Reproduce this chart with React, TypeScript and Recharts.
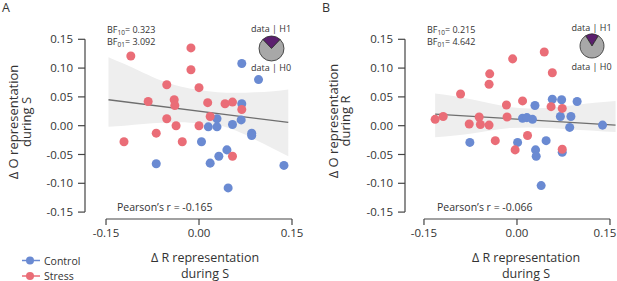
import React from 'react';
import {
  ComposedChart, Scatter, Line, Area, XAxis, YAxis, ReferenceLine,
  PieChart, Pie, Cell,
} from 'recharts';

// values, [x, y]
const controlA: [number, number][] = [
  [0.069, 0.108], [0.096, 0.080], [0.069, 0.038], [0.029, 0.012], [0.068, 0.010],
  [0.015, -0.002], [0.029, -0.002], [0.054, 0.002], [0.085, -0.013], [0.085, -0.017],
  [0.004, -0.028], [-0.069, -0.066], [0.018, -0.065], [0.032, -0.053], [0.045, -0.042],
  [0.137, -0.069], [0.047, -0.108],
];
const stressA: [number, number][] = [
  [-0.110, 0.121], [-0.013, 0.135], [-0.013, 0.097], [-0.052, 0.071], [0.000, 0.066],
  [-0.082, 0.042], [-0.040, 0.045], [-0.039, 0.035], [0.014, 0.040], [0.042, 0.038],
  [0.054, 0.041], [0.069, 0.028], [-0.052, 0.012], [0.018, 0.016], [-0.037, 0.000],
  [0.000, 0.000], [-0.069, -0.013], [-0.121, -0.028], [-0.027, -0.028], [0.054, -0.053],
];
const controlB: [number, number][] = [
  [0.057, 0.046], [0.072, 0.045], [0.097, 0.042], [0.029, 0.035], [0.009, 0.013],
  [0.016, 0.014], [0.025, 0.011], [0.070, 0.016], [0.087, 0.016], [0.085, -0.003],
  [0.138, 0.001], [-0.076, -0.029], [0.001, -0.029], [0.047, -0.026], [0.030, -0.042],
  [0.031, -0.053], [0.073, -0.046], [0.039, -0.104],
];
const stressB: [number, number][] = [
  [0.044, 0.128], [-0.007, 0.116], [-0.044, 0.090], [0.057, 0.092], [-0.045, 0.072],
  [-0.091, 0.055], [0.009, 0.043], [-0.017, 0.036], [0.055, 0.033], [0.073, 0.030],
  [-0.132, 0.011], [-0.119, 0.016], [-0.061, 0.015], [-0.016, 0.015], [-0.077, 0.003],
  [-0.059, 0.002], [-0.045, 0.001], [0.017, -0.017], [-0.035, -0.026], [-0.003, -0.042],
  [0.073, -0.041],
];

// regression line end points and credible band
const fitA: [number, number][] = [[-0.146, 0.045], [0.144, 0.0057]];
const fitB: [number, number][] = [[-0.132, 0.020], [0.159, 0.001]];

const bandAX = [-0.146, -0.12, -0.09, -0.06, -0.03, 0.0, 0.03, 0.06, 0.09, 0.12, 0.144];
const bandAHi = [0.119, 0.107, 0.092, 0.078, 0.068, 0.062, 0.058, 0.057, 0.058, 0.060, 0.063];
const bandALo = [-0.002, 0.000, 0.003, 0.005, 0.006, 0.004, 0.001, -0.009, -0.024, -0.040, -0.053];

const bandBX = [-0.132, -0.10, -0.07, -0.04, -0.01, 0.02, 0.05, 0.08, 0.11, 0.14, 0.159];
const bandBHi = [0.056, 0.051, 0.045, 0.038, 0.032, 0.030, 0.031, 0.034, 0.038, 0.041, 0.043];
const bandBLo = [-0.020, -0.017, -0.013, -0.008, -0.004, -0.003, -0.004, -0.006, -0.008, -0.010, -0.011];

const xTicks = [-0.15, 0, 0.15];
const yTicks = [-0.15, -0.1, -0.05, 0, 0.05, 0.1, 0.15];

const bfA = { bf10: '0.323', bf01: '3.092', r: '-0.165' };
const bfB = { bf10: '0.215', bf01: '4.642', r: '-0.066' };

const FONT = '"Open Sans", sans-serif';
const TEXT = '#333';
const AXIS = '#444';
const BLUE = '#6a8ad2';
const RED = '#ea6d77';
const Y_MIN = -0.162;
const Y_MAX = 0.1505;

const toPts = (arr: [number, number][]) => arr.map(([x, y]) => ({ x, y }));
const toBand = (xs: number[], lo: number[], hi: number[]) =>
  xs.map((x, i) => ({ x, band: [lo[i], hi[i]] }));

interface PanelProps {
  left: number;
  width: number;
  yAxisWidth: number;
  marginRight: number;
  xMin: number;
  xMax: number;
  control: [number, number][];
  stress: [number, number][];
  fit: [number, number][];
  band: { x: number; band: number[] }[];
  letter: string;
  bf: { bf10: string; bf01: string; r: string };
  yTitle: string;
  lastTickShift?: number;
  // local layout of the annotations
  at: {
    letterX: number; letterY: number;
    bfX: number; bfY: number;
    pieX: number; pieY: number; pieR: number; h1Y: number; h0Y: number;
    pearsonX: number;
    yT1: number; yT2: number; yTc: number;
    xTc: number;
  };
  legend?: boolean;
}

function BayesPie({ x, y, r, bf10 }: { x: number; y: number; r: number; bf10: number }) {
  const data = [
    { name: 'data | H1', value: bf10 },
    { name: 'data | H0', value: 1 },
  ];
  const half = (180 * bf10) / (1 + bf10);
  const size = r * 2 + 4;
  return (
    <div style={{ position: 'absolute', left: x - size / 2, top: y - size / 2 }}>
      <PieChart width={size} height={size} margin={{ top: 0, right: 0, bottom: 0, left: 0 }}>
        <Pie
          data={data}
          dataKey="value"
          cx={size / 2}
          cy={size / 2}
          outerRadius={r}
          startAngle={90 + half}
          endAngle={90 + half - 360}
          stroke="#2a2a2a"
          strokeWidth={0.8}
          isAnimationActive={false}
        >
          <Cell fill="#5b1f6e" />
          <Cell fill="#a8a8a8" />
        </Pie>
      </PieChart>
    </div>
  );
}

function XTick(props: any) {
  const { x, y, payload, shift = 0 } = props;
  const v = payload.value as number;
  const dx = v >= 0.15 ? -shift : 0;
  return (
    <text
      x={x + dx}
      y={y}
      dy="0.71em"
      textAnchor="middle"
      fill={TEXT}
      fontSize={11.5}
      fontFamily={FONT}
    >
      {v.toFixed(2)}
    </text>
  );
}

function Panel(p: PanelProps) {
  const height = 281;
  const a = p.at;
  const tickStyle = { fill: TEXT, fontSize: 11.5, fontFamily: FONT };
  return (
    <div style={{ position: 'absolute', left: p.left, top: 0, width: p.width, height }}>
      <ComposedChart
        width={p.width}
        height={height}
        margin={{ top: 39, right: p.marginRight, bottom: 0, left: 0 }}
      >
        <XAxis
          type="number"
          dataKey="x"
          domain={[p.xMin, p.xMax]}
          allowDataOverflow
          ticks={xTicks}
          interval={0}
          axisLine={false}
          tickLine={{ stroke: AXIS, strokeWidth: 1.2 }}
          tickSize={6}
          tickMargin={4}
          height={62}
          tick={(tp: any) => <XTick {...tp} shift={p.lastTickShift ?? 0} />}
        />
        <YAxis
          type="number"
          dataKey="y"
          domain={[Y_MIN, Y_MAX]}
          allowDataOverflow
          ticks={yTicks}
          interval={0}
          tickFormatter={(v: number) => v.toFixed(2)}
          axisLine={false}
          tickLine={{ stroke: AXIS, strokeWidth: 1.2 }}
          tickSize={7}
          tickMargin={5}
          width={p.yAxisWidth}
          tick={tickStyle}
        />
        <Area
          data={p.band}
          dataKey="band"
          type="monotone"
          fill="#eeeeee"
          fillOpacity={1}
          stroke="none"
          isAnimationActive={false}
        />
        <Line
          data={toPts(p.fit)}
          dataKey="y"
          type="linear"
          stroke="#6e6e6e"
          strokeWidth={1.3}
          dot={false}
          activeDot={false}
          isAnimationActive={false}
        />
        <ReferenceLine
          segment={[{ x: p.xMin, y: -0.15 }, { x: p.xMin, y: 0.15 }]}
          stroke={AXIS}
          strokeWidth={1.2}
          ifOverflow="visible"
        />
        <ReferenceLine
          segment={[{ x: -0.15, y: Y_MIN }, { x: 0.15, y: Y_MIN }]}
          stroke={AXIS}
          strokeWidth={1.2}
          ifOverflow="visible"
        />
        <Scatter
          name="Control"
          data={toPts(p.control)}
          dataKey="y"
          fill={BLUE}
          shape="circle"
          isAnimationActive={false}
        />
        <Scatter
          name="Stress"
          data={toPts(p.stress)}
          dataKey="y"
          fill={RED}
          shape="circle"
          isAnimationActive={false}
        />
      </ComposedChart>

      <svg
        width={p.width}
        height={height}
        style={{ position: 'absolute', left: 0, top: 0, pointerEvents: 'none', fontFamily: FONT }}
      >
        <text x={a.letterX} y={a.letterY} fontSize={12.5} fill={TEXT}>{p.letter}</text>

        <text x={a.bfX} y={a.bfY} fontSize={9} fill={TEXT}>
          BF<tspan fontSize={6.5} dy={2}>10</tspan><tspan dy={-2}>= {p.bf.bf10}</tspan>
        </text>
        <text x={a.bfX} y={a.bfY + 12} fontSize={9} fill={TEXT}>
          BF<tspan fontSize={6.5} dy={2}>01</tspan><tspan dy={-2}>= {p.bf.bf01}</tspan>
        </text>

        <text x={a.pieX} y={a.h1Y} fontSize={9} fill={TEXT} textAnchor="middle">data | H1</text>
        <text x={a.pieX} y={a.h0Y} fontSize={9} fill={TEXT} textAnchor="middle">data | H0</text>

        <text x={a.pearsonX} y={211} fontSize={10.5} fill={TEXT}>
          Pearson’s r = {p.bf.r}
        </text>

        <text
          x={a.yT1} y={a.yTc} fontSize={13} fill={TEXT} textAnchor="middle"
          transform={`rotate(-90, ${a.yT1}, ${a.yTc})`}
        >
          Δ O representation
        </text>
        <text
          x={a.yT2} y={a.yTc} fontSize={13} fill={TEXT} textAnchor="middle"
          transform={`rotate(-90, ${a.yT2}, ${a.yTc})`}
        >
          {p.yTitle}
        </text>

        <text x={a.xTc} y={262} fontSize={12.5} fill={TEXT} textAnchor="middle">
          Δ R representation
        </text>
        <text x={a.xTc} y={277.5} fontSize={12.5} fill={TEXT} textAnchor="middle">
          during S
        </text>

        {p.legend && (
          <g>
            <line x1={22} x2={40} y1={260.5} y2={260.5} stroke={BLUE} strokeWidth={1.5} />
            <circle cx={30} cy={260.5} r={4} fill={BLUE} />
            <text x={44} y={264.5} fontSize={10.5} fill={TEXT}>Control</text>
            <line x1={22} x2={40} y1={276} y2={276} stroke={RED} strokeWidth={1.5} />
            <circle cx={30} cy={276} r={4} fill={RED} />
            <text x={44} y={279.5} fontSize={10.5} fill={TEXT}>Stress</text>
          </g>
        )}
      </svg>

      <BayesPie x={a.pieX} y={a.pieY} r={a.pieR} bf10={parseFloat(p.bf.bf10)} />
    </div>
  );
}

export default function App() {
  return (
    <div style={{
      position: 'absolute', left: 0, top: 0, width: 617, height: 281,
      background: '#fff', overflow: 'hidden', fontFamily: FONT,
    }}>
      <Panel
        left={0}
        width={310}
        yAxisWidth={85}
        marginRight={18}
        xMin={-0.1839}
        xMax={0.15}
        control={controlA}
        stress={stressA}
        fit={fitA}
        band={toBand(bandAX, bandALo, bandAHi)}
        letter="A"
        bf={bfA}
        yTitle="during S"
        legend
        at={{
          letterX: 2, letterY: 12,
          bfX: 107, bfY: 33,
          pieX: 271, pieY: 48, pieR: 12.5, h1Y: 32, h0Y: 71,
          pearsonX: 117,
          yT1: 18, yT2: 31, yTc: 122,
          xTc: 205,
        }}
      />
      <Panel
        left={310}
        width={307}
        yAxisWidth={95}
        marginRight={1}
        xMin={-0.1806}
        xMax={0.1597}
        control={controlB}
        stress={stressB}
        fit={fitB}
        band={toBand(bandBX, bandBLo, bandBHi)}
        letter="B"
        bf={bfB}
        yTitle="during R"
        lastTickShift={5}
        at={{
          letterX: 12, letterY: 12,
          bfX: 117, bfY: 33,
          pieX: 281.5, pieY: 46, pieR: 12, h1Y: 30.5, h0Y: 70,
          pearsonX: 127,
          yT1: 28, yT2: 40, yTc: 121,
          xTc: 216,
        }}
      />
    </div>
  );
}
